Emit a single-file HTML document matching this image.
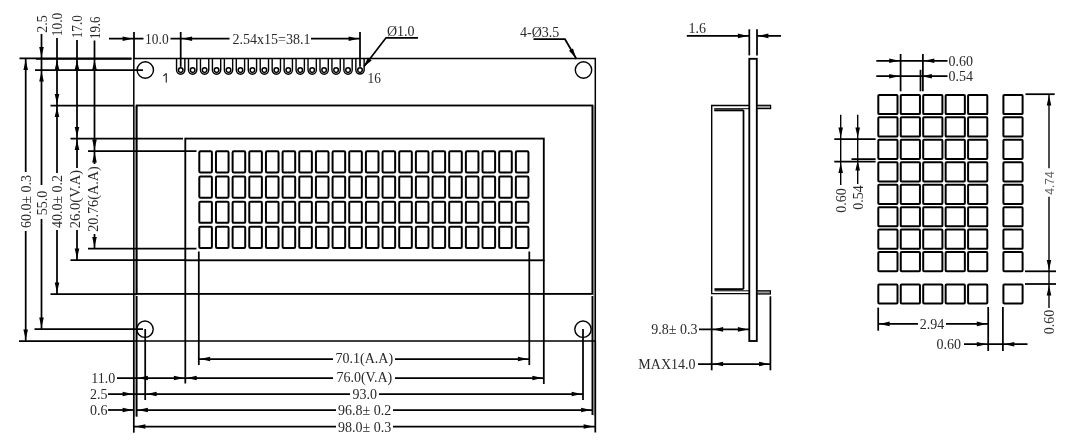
<!DOCTYPE html>
<html><head><meta charset="utf-8"><title>LCD 2004 dimensions</title>
<style>
html,body{margin:0;padding:0;background:#fff;}
body{width:1067px;height:441px;overflow:hidden;font-family:"Liberation Serif",serif;}
svg{display:block;filter:grayscale(1);}
</style></head>
<body>
<svg width="1067" height="441" viewBox="0 0 1067 441">
<rect x="0" y="0" width="1067" height="441" fill="#fff"/>
<g stroke="#000" fill="#000">
<rect x="134.4" y="105.5" width="1.8" height="311" fill="#b0b0b0" stroke="none"/>
<rect x="593.1" y="105.5" width="1.7" height="310" fill="#b0b0b0" stroke="none"/>
<rect x="133.8" y="58.5" width="461.49999999999994" height="282.5" fill="none" stroke-width="1.5"/>
<rect x="136.7" y="105.5" width="455.7" height="188.39999999999998" fill="none" stroke-width="1.85"/>
<circle cx="145.3" cy="70" r="8.2" fill="none" stroke-width="1.4"/>
<circle cx="583.5" cy="70" r="8.2" fill="none" stroke-width="1.4"/>
<circle cx="145" cy="329.2" r="8.2" fill="none" stroke-width="1.4"/>
<circle cx="583" cy="329.2" r="8.2" fill="none" stroke-width="1.4"/>
<rect x="185.3" y="138.6" width="358.49999999999994" height="121.70000000000002" fill="none" stroke-width="1.85"/>
<rect x="199.30" y="151.30" width="12.6" height="21.2" rx="1.2" fill="none" stroke-width="2"/>
<rect x="215.96" y="151.30" width="12.6" height="21.2" rx="1.2" fill="none" stroke-width="2"/>
<rect x="232.62" y="151.30" width="12.6" height="21.2" rx="1.2" fill="none" stroke-width="2"/>
<rect x="249.28" y="151.30" width="12.6" height="21.2" rx="1.2" fill="none" stroke-width="2"/>
<rect x="265.94" y="151.30" width="12.6" height="21.2" rx="1.2" fill="none" stroke-width="2"/>
<rect x="282.60" y="151.30" width="12.6" height="21.2" rx="1.2" fill="none" stroke-width="2"/>
<rect x="299.26" y="151.30" width="12.6" height="21.2" rx="1.2" fill="none" stroke-width="2"/>
<rect x="315.92" y="151.30" width="12.6" height="21.2" rx="1.2" fill="none" stroke-width="2"/>
<rect x="332.58" y="151.30" width="12.6" height="21.2" rx="1.2" fill="none" stroke-width="2"/>
<rect x="349.24" y="151.30" width="12.6" height="21.2" rx="1.2" fill="none" stroke-width="2"/>
<rect x="365.90" y="151.30" width="12.6" height="21.2" rx="1.2" fill="none" stroke-width="2"/>
<rect x="382.56" y="151.30" width="12.6" height="21.2" rx="1.2" fill="none" stroke-width="2"/>
<rect x="399.22" y="151.30" width="12.6" height="21.2" rx="1.2" fill="none" stroke-width="2"/>
<rect x="415.88" y="151.30" width="12.6" height="21.2" rx="1.2" fill="none" stroke-width="2"/>
<rect x="432.54" y="151.30" width="12.6" height="21.2" rx="1.2" fill="none" stroke-width="2"/>
<rect x="449.20" y="151.30" width="12.6" height="21.2" rx="1.2" fill="none" stroke-width="2"/>
<rect x="465.86" y="151.30" width="12.6" height="21.2" rx="1.2" fill="none" stroke-width="2"/>
<rect x="482.52" y="151.30" width="12.6" height="21.2" rx="1.2" fill="none" stroke-width="2"/>
<rect x="499.18" y="151.30" width="12.6" height="21.2" rx="1.2" fill="none" stroke-width="2"/>
<rect x="515.84" y="151.30" width="12.6" height="21.2" rx="1.2" fill="none" stroke-width="2"/>
<rect x="199.30" y="176.47" width="12.6" height="21.2" rx="1.2" fill="none" stroke-width="2"/>
<rect x="215.96" y="176.47" width="12.6" height="21.2" rx="1.2" fill="none" stroke-width="2"/>
<rect x="232.62" y="176.47" width="12.6" height="21.2" rx="1.2" fill="none" stroke-width="2"/>
<rect x="249.28" y="176.47" width="12.6" height="21.2" rx="1.2" fill="none" stroke-width="2"/>
<rect x="265.94" y="176.47" width="12.6" height="21.2" rx="1.2" fill="none" stroke-width="2"/>
<rect x="282.60" y="176.47" width="12.6" height="21.2" rx="1.2" fill="none" stroke-width="2"/>
<rect x="299.26" y="176.47" width="12.6" height="21.2" rx="1.2" fill="none" stroke-width="2"/>
<rect x="315.92" y="176.47" width="12.6" height="21.2" rx="1.2" fill="none" stroke-width="2"/>
<rect x="332.58" y="176.47" width="12.6" height="21.2" rx="1.2" fill="none" stroke-width="2"/>
<rect x="349.24" y="176.47" width="12.6" height="21.2" rx="1.2" fill="none" stroke-width="2"/>
<rect x="365.90" y="176.47" width="12.6" height="21.2" rx="1.2" fill="none" stroke-width="2"/>
<rect x="382.56" y="176.47" width="12.6" height="21.2" rx="1.2" fill="none" stroke-width="2"/>
<rect x="399.22" y="176.47" width="12.6" height="21.2" rx="1.2" fill="none" stroke-width="2"/>
<rect x="415.88" y="176.47" width="12.6" height="21.2" rx="1.2" fill="none" stroke-width="2"/>
<rect x="432.54" y="176.47" width="12.6" height="21.2" rx="1.2" fill="none" stroke-width="2"/>
<rect x="449.20" y="176.47" width="12.6" height="21.2" rx="1.2" fill="none" stroke-width="2"/>
<rect x="465.86" y="176.47" width="12.6" height="21.2" rx="1.2" fill="none" stroke-width="2"/>
<rect x="482.52" y="176.47" width="12.6" height="21.2" rx="1.2" fill="none" stroke-width="2"/>
<rect x="499.18" y="176.47" width="12.6" height="21.2" rx="1.2" fill="none" stroke-width="2"/>
<rect x="515.84" y="176.47" width="12.6" height="21.2" rx="1.2" fill="none" stroke-width="2"/>
<rect x="199.30" y="201.64" width="12.6" height="21.2" rx="1.2" fill="none" stroke-width="2"/>
<rect x="215.96" y="201.64" width="12.6" height="21.2" rx="1.2" fill="none" stroke-width="2"/>
<rect x="232.62" y="201.64" width="12.6" height="21.2" rx="1.2" fill="none" stroke-width="2"/>
<rect x="249.28" y="201.64" width="12.6" height="21.2" rx="1.2" fill="none" stroke-width="2"/>
<rect x="265.94" y="201.64" width="12.6" height="21.2" rx="1.2" fill="none" stroke-width="2"/>
<rect x="282.60" y="201.64" width="12.6" height="21.2" rx="1.2" fill="none" stroke-width="2"/>
<rect x="299.26" y="201.64" width="12.6" height="21.2" rx="1.2" fill="none" stroke-width="2"/>
<rect x="315.92" y="201.64" width="12.6" height="21.2" rx="1.2" fill="none" stroke-width="2"/>
<rect x="332.58" y="201.64" width="12.6" height="21.2" rx="1.2" fill="none" stroke-width="2"/>
<rect x="349.24" y="201.64" width="12.6" height="21.2" rx="1.2" fill="none" stroke-width="2"/>
<rect x="365.90" y="201.64" width="12.6" height="21.2" rx="1.2" fill="none" stroke-width="2"/>
<rect x="382.56" y="201.64" width="12.6" height="21.2" rx="1.2" fill="none" stroke-width="2"/>
<rect x="399.22" y="201.64" width="12.6" height="21.2" rx="1.2" fill="none" stroke-width="2"/>
<rect x="415.88" y="201.64" width="12.6" height="21.2" rx="1.2" fill="none" stroke-width="2"/>
<rect x="432.54" y="201.64" width="12.6" height="21.2" rx="1.2" fill="none" stroke-width="2"/>
<rect x="449.20" y="201.64" width="12.6" height="21.2" rx="1.2" fill="none" stroke-width="2"/>
<rect x="465.86" y="201.64" width="12.6" height="21.2" rx="1.2" fill="none" stroke-width="2"/>
<rect x="482.52" y="201.64" width="12.6" height="21.2" rx="1.2" fill="none" stroke-width="2"/>
<rect x="499.18" y="201.64" width="12.6" height="21.2" rx="1.2" fill="none" stroke-width="2"/>
<rect x="515.84" y="201.64" width="12.6" height="21.2" rx="1.2" fill="none" stroke-width="2"/>
<rect x="199.30" y="226.81" width="12.6" height="21.2" rx="1.2" fill="none" stroke-width="2"/>
<rect x="215.96" y="226.81" width="12.6" height="21.2" rx="1.2" fill="none" stroke-width="2"/>
<rect x="232.62" y="226.81" width="12.6" height="21.2" rx="1.2" fill="none" stroke-width="2"/>
<rect x="249.28" y="226.81" width="12.6" height="21.2" rx="1.2" fill="none" stroke-width="2"/>
<rect x="265.94" y="226.81" width="12.6" height="21.2" rx="1.2" fill="none" stroke-width="2"/>
<rect x="282.60" y="226.81" width="12.6" height="21.2" rx="1.2" fill="none" stroke-width="2"/>
<rect x="299.26" y="226.81" width="12.6" height="21.2" rx="1.2" fill="none" stroke-width="2"/>
<rect x="315.92" y="226.81" width="12.6" height="21.2" rx="1.2" fill="none" stroke-width="2"/>
<rect x="332.58" y="226.81" width="12.6" height="21.2" rx="1.2" fill="none" stroke-width="2"/>
<rect x="349.24" y="226.81" width="12.6" height="21.2" rx="1.2" fill="none" stroke-width="2"/>
<rect x="365.90" y="226.81" width="12.6" height="21.2" rx="1.2" fill="none" stroke-width="2"/>
<rect x="382.56" y="226.81" width="12.6" height="21.2" rx="1.2" fill="none" stroke-width="2"/>
<rect x="399.22" y="226.81" width="12.6" height="21.2" rx="1.2" fill="none" stroke-width="2"/>
<rect x="415.88" y="226.81" width="12.6" height="21.2" rx="1.2" fill="none" stroke-width="2"/>
<rect x="432.54" y="226.81" width="12.6" height="21.2" rx="1.2" fill="none" stroke-width="2"/>
<rect x="449.20" y="226.81" width="12.6" height="21.2" rx="1.2" fill="none" stroke-width="2"/>
<rect x="465.86" y="226.81" width="12.6" height="21.2" rx="1.2" fill="none" stroke-width="2"/>
<rect x="482.52" y="226.81" width="12.6" height="21.2" rx="1.2" fill="none" stroke-width="2"/>
<rect x="499.18" y="226.81" width="12.6" height="21.2" rx="1.2" fill="none" stroke-width="2"/>
<rect x="515.84" y="226.81" width="12.6" height="21.2" rx="1.2" fill="none" stroke-width="2"/>
<path d="M176.55,58.5 V70.1 A4.15,4.15 0 0 0 184.85,70.1 V58.5" fill="none" stroke-width="1.4"/>
<circle cx="180.7" cy="70.1" r="2.3" fill="none" stroke-width="1.5"/>
<path d="M188.50,58.5 V70.1 A4.15,4.15 0 0 0 196.80,70.1 V58.5" fill="none" stroke-width="1.4"/>
<circle cx="192.65" cy="70.1" r="2.3" fill="none" stroke-width="1.5"/>
<path d="M200.46,58.5 V70.1 A4.15,4.15 0 0 0 208.76,70.1 V58.5" fill="none" stroke-width="1.4"/>
<circle cx="204.61" cy="70.1" r="2.3" fill="none" stroke-width="1.5"/>
<path d="M212.41,58.5 V70.1 A4.15,4.15 0 0 0 220.71,70.1 V58.5" fill="none" stroke-width="1.4"/>
<circle cx="216.56" cy="70.1" r="2.3" fill="none" stroke-width="1.5"/>
<path d="M224.36,58.5 V70.1 A4.15,4.15 0 0 0 232.66,70.1 V58.5" fill="none" stroke-width="1.4"/>
<circle cx="228.51" cy="70.1" r="2.3" fill="none" stroke-width="1.5"/>
<path d="M236.31,58.5 V70.1 A4.15,4.15 0 0 0 244.61,70.1 V58.5" fill="none" stroke-width="1.4"/>
<circle cx="240.46" cy="70.1" r="2.3" fill="none" stroke-width="1.5"/>
<path d="M248.27,58.5 V70.1 A4.15,4.15 0 0 0 256.57,70.1 V58.5" fill="none" stroke-width="1.4"/>
<circle cx="252.42" cy="70.1" r="2.3" fill="none" stroke-width="1.5"/>
<path d="M260.22,58.5 V70.1 A4.15,4.15 0 0 0 268.52,70.1 V58.5" fill="none" stroke-width="1.4"/>
<circle cx="264.37" cy="70.1" r="2.3" fill="none" stroke-width="1.5"/>
<path d="M272.17,58.5 V70.1 A4.15,4.15 0 0 0 280.47,70.1 V58.5" fill="none" stroke-width="1.4"/>
<circle cx="276.32" cy="70.1" r="2.3" fill="none" stroke-width="1.5"/>
<path d="M284.13,58.5 V70.1 A4.15,4.15 0 0 0 292.43,70.1 V58.5" fill="none" stroke-width="1.4"/>
<circle cx="288.28" cy="70.1" r="2.3" fill="none" stroke-width="1.5"/>
<path d="M296.08,58.5 V70.1 A4.15,4.15 0 0 0 304.38,70.1 V58.5" fill="none" stroke-width="1.4"/>
<circle cx="300.23" cy="70.1" r="2.3" fill="none" stroke-width="1.5"/>
<path d="M308.03,58.5 V70.1 A4.15,4.15 0 0 0 316.33,70.1 V58.5" fill="none" stroke-width="1.4"/>
<circle cx="312.18" cy="70.1" r="2.3" fill="none" stroke-width="1.5"/>
<path d="M319.99,58.5 V70.1 A4.15,4.15 0 0 0 328.29,70.1 V58.5" fill="none" stroke-width="1.4"/>
<circle cx="324.14" cy="70.1" r="2.3" fill="none" stroke-width="1.5"/>
<path d="M331.94,58.5 V70.1 A4.15,4.15 0 0 0 340.24,70.1 V58.5" fill="none" stroke-width="1.4"/>
<circle cx="336.09" cy="70.1" r="2.3" fill="none" stroke-width="1.5"/>
<path d="M343.89,58.5 V70.1 A4.15,4.15 0 0 0 352.19,70.1 V58.5" fill="none" stroke-width="1.4"/>
<circle cx="348.04" cy="70.1" r="2.3" fill="none" stroke-width="1.5"/>
<path d="M355.85,58.5 V70.1 A4.15,4.15 0 0 0 364.14,70.1 V58.5" fill="none" stroke-width="1.4"/>
<circle cx="360.0" cy="70.1" r="2.3" fill="none" stroke-width="1.5"/>
<line x1="134" y1="32" x2="134" y2="58" stroke-width="1.75"/>
<line x1="180.7" y1="32" x2="180.7" y2="66.8" stroke-width="1.75"/>
<line x1="360" y1="32" x2="360" y2="66.8" stroke-width="1.75"/>
<line x1="109" y1="38.7" x2="143.5" y2="38.7" stroke-width="1.75"/>
<polygon points="132.6,38.7 122.6,36.4 122.6,41.0" stroke="none" fill="#000"/>
<line x1="170.5" y1="38.7" x2="229.5" y2="38.7" stroke-width="1.75"/>
<polygon points="182.1,38.7 192.1,36.4 192.1,41.0" stroke="none" fill="#000"/>
<line x1="311" y1="38.7" x2="360" y2="38.7" stroke-width="1.75"/>
<polygon points="358.6,38.7 348.6,36.4 348.6,41.0" stroke="none" fill="#000"/>
<polyline points="364.0,66.6 386,37.8 418,37.8" fill="none" stroke-width="1.7"/>
<polygon points="364.0,66.6 367.9,57.6 371.7,60.5" stroke="none" fill="#000"/>
<path d="M166.3,73.2 V82.4 M166.3,73.4 L163.4,76" fill="none" stroke="#333" stroke-width="1.25"/>
<polyline points="533.5,39.2 565,39.2 576.5,59" fill="none" stroke-width="1.7"/>
<polygon points="576.0,58.2 569.0,50.7 573.0,48.4" stroke="none" fill="#000"/>
<line x1="19.5" y1="58.4" x2="131.5" y2="58.4" stroke-width="1.7"/>
<line x1="36" y1="58.9" x2="131.5" y2="58.9" stroke-width="1.8"/>
<line x1="35" y1="70" x2="143" y2="70" stroke-width="1.75"/>
<line x1="50.5" y1="105.5" x2="134" y2="105.5" stroke-width="1.75"/>
<line x1="70.5" y1="138.6" x2="183" y2="138.6" stroke-width="1.75"/>
<line x1="88" y1="151" x2="196.5" y2="151" stroke-width="1.75"/>
<line x1="88" y1="248.5" x2="196.5" y2="248.5" stroke-width="1.75"/>
<line x1="70.5" y1="260" x2="185.3" y2="260" stroke-width="1.75"/>
<line x1="50.5" y1="294" x2="137" y2="294" stroke-width="1.75"/>
<line x1="34.5" y1="329" x2="143" y2="329" stroke-width="1.75"/>
<line x1="19" y1="341" x2="134" y2="341" stroke-width="1.75"/>
<line x1="25.7" y1="58.5" x2="25.7" y2="172" stroke-width="1.75"/>
<line x1="25.7" y1="231" x2="25.7" y2="341" stroke-width="1.75"/>
<polygon points="25.7,59.9 23.4,69.9 28.0,69.9" stroke="none" fill="#000"/>
<polygon points="25.7,339.6 23.4,329.6 28.0,329.6" stroke="none" fill="#000"/>
<line x1="41.5" y1="34" x2="41.5" y2="185" stroke-width="1.75"/>
<line x1="41.5" y1="219" x2="41.5" y2="329" stroke-width="1.75"/>
<polygon points="41.5,57.1 39.2,47.1 43.8,47.1" stroke="none" fill="#000"/>
<polygon points="41.5,71.4 39.2,81.4 43.8,81.4" stroke="none" fill="#000"/>
<polygon points="41.5,327.6 39.2,317.6 43.8,317.6" stroke="none" fill="#000"/>
<line x1="57" y1="38" x2="57" y2="173" stroke-width="1.75"/>
<line x1="57" y1="230" x2="57" y2="294" stroke-width="1.75"/>
<polygon points="57.0,59.9 54.7,69.9 59.3,69.9" stroke="none" fill="#000"/>
<polygon points="57.0,104.1 54.7,94.1 59.3,94.1" stroke="none" fill="#000"/>
<polygon points="57.0,106.9 54.7,116.9 59.3,116.9" stroke="none" fill="#000"/>
<polygon points="57.0,292.6 54.7,282.6 59.3,282.6" stroke="none" fill="#000"/>
<line x1="77" y1="40" x2="77" y2="168" stroke-width="1.75"/>
<line x1="77" y1="230" x2="77" y2="260" stroke-width="1.75"/>
<polygon points="77.0,59.9 74.7,69.9 79.3,69.9" stroke="none" fill="#000"/>
<polygon points="77.0,137.1 74.7,127.1 79.3,127.1" stroke="none" fill="#000"/>
<polygon points="77.0,139.9 74.7,149.9 79.3,149.9" stroke="none" fill="#000"/>
<polygon points="77.0,258.6 74.7,248.6 79.3,248.6" stroke="none" fill="#000"/>
<line x1="94.5" y1="40.5" x2="94.5" y2="164" stroke-width="1.75"/>
<line x1="94.5" y1="234" x2="94.5" y2="248.5" stroke-width="1.75"/>
<polygon points="94.5,59.9 92.2,69.9 96.8,69.9" stroke="none" fill="#000"/>
<polygon points="94.5,149.6 92.2,139.6 96.8,139.6" stroke="none" fill="#000"/>
<polygon points="94.5,152.4 92.2,162.4 96.8,162.4" stroke="none" fill="#000"/>
<polygon points="94.5,247.1 92.2,237.1 96.8,237.1" stroke="none" fill="#000"/>
<line x1="133.8" y1="341" x2="133.8" y2="432.7" stroke-width="1.7"/>
<line x1="136.7" y1="296" x2="136.7" y2="416.7" stroke-width="1.7"/>
<line x1="145.2" y1="329" x2="145.2" y2="400" stroke-width="1.75"/>
<line x1="185.3" y1="260" x2="185.3" y2="383.5" stroke-width="1.75"/>
<line x1="198.8" y1="251.5" x2="198.8" y2="365" stroke-width="1.75"/>
<line x1="529.3" y1="251.5" x2="529.3" y2="365" stroke-width="1.75"/>
<line x1="543.8" y1="260" x2="543.8" y2="384" stroke-width="1.75"/>
<line x1="583" y1="329" x2="583" y2="400" stroke-width="1.75"/>
<line x1="592.4" y1="296" x2="592.4" y2="415" stroke-width="1.75"/>
<line x1="595.3" y1="341" x2="595.3" y2="432.5" stroke-width="1.75"/>
<line x1="198.8" y1="359" x2="333" y2="359" stroke-width="1.75"/>
<line x1="395" y1="359" x2="529.3" y2="359" stroke-width="1.75"/>
<polygon points="200.2,359.0 210.2,356.7 210.2,361.3" stroke="none" fill="#000"/>
<polygon points="527.9,359.0 517.9,356.7 517.9,361.3" stroke="none" fill="#000"/>
<line x1="117" y1="378" x2="333" y2="378" stroke-width="1.75"/>
<line x1="395" y1="378" x2="543.8" y2="378" stroke-width="1.75"/>
<polygon points="137.9,378.0 147.9,375.7 147.9,380.3" stroke="none" fill="#000"/>
<polygon points="183.9,378.0 173.9,375.7 173.9,380.3" stroke="none" fill="#000"/>
<polygon points="186.7,378.0 196.7,375.7 196.7,380.3" stroke="none" fill="#000"/>
<polygon points="542.4,378.0 532.4,375.7 532.4,380.3" stroke="none" fill="#000"/>
<line x1="108" y1="394" x2="145.2" y2="394" stroke-width="1.75"/>
<polygon points="132.6,394.0 122.6,391.7 122.6,396.3" stroke="none" fill="#000"/>
<line x1="145.2" y1="394" x2="350" y2="394" stroke-width="1.75"/>
<line x1="379" y1="394" x2="583" y2="394" stroke-width="1.75"/>
<polygon points="146.6,394.0 156.6,391.7 156.6,396.3" stroke="none" fill="#000"/>
<polygon points="581.6,394.0 571.6,391.7 571.6,396.3" stroke="none" fill="#000"/>
<line x1="108" y1="410" x2="134" y2="410" stroke-width="1.75"/>
<polygon points="132.6,410.0 122.6,407.7 122.6,412.3" stroke="none" fill="#000"/>
<line x1="136.5" y1="410" x2="336" y2="410" stroke-width="1.75"/>
<line x1="393" y1="410" x2="592.5" y2="410" stroke-width="1.75"/>
<polygon points="137.9,410.0 147.9,407.7 147.9,412.3" stroke="none" fill="#000"/>
<polygon points="591.1,410.0 581.1,407.7 581.1,412.3" stroke="none" fill="#000"/>
<line x1="134" y1="426.5" x2="336" y2="426.5" stroke-width="1.75"/>
<line x1="393" y1="426.5" x2="595" y2="426.5" stroke-width="1.75"/>
<polygon points="135.4,426.5 145.4,424.2 145.4,428.8" stroke="none" fill="#000"/>
<polygon points="593.6,426.5 583.6,424.2 583.6,428.8" stroke="none" fill="#000"/>
<rect x="749.3" y="58.8" width="7.5" height="282.2" fill="none" stroke-width="1.85"/>
<line x1="749.3" y1="29.3" x2="749.3" y2="55.4" stroke-width="1.75"/>
<line x1="757" y1="29.3" x2="757" y2="55.4" stroke-width="1.75"/>
<line x1="686.8" y1="35.9" x2="749.3" y2="35.9" stroke-width="1.75"/>
<polygon points="747.9,35.9 737.9,33.6 737.9,38.2" stroke="none" fill="#000"/>
<line x1="757" y1="35.9" x2="781" y2="35.9" stroke-width="1.75"/>
<polygon points="758.4,35.9 768.4,33.6 768.4,38.2" stroke="none" fill="#000"/>
<polyline points="749.3,105.5 711.7,105.5 711.7,293.6 749.3,293.6" fill="none" stroke-width="1.4"/>
<line x1="714.2" y1="108.7" x2="749.3" y2="108.7" stroke-width="1.0"/>
<line x1="714.2" y1="110.3" x2="743.5" y2="110.3" stroke-width="2.0"/>
<line x1="743.5" y1="110" x2="743.5" y2="289" stroke-width="1.75"/>
<line x1="714.5" y1="289.2" x2="743.5" y2="289.2" stroke-width="2.0"/>
<line x1="714.5" y1="290.8" x2="749.3" y2="290.8" stroke-width="1.0"/>
<rect x="757" y="105.3" width="13.6" height="3.3" fill="#999" stroke-width="1.2"/>
<rect x="757" y="290.8" width="13.4" height="3.2" fill="#999" stroke-width="1.2"/>
<line x1="711.7" y1="296.3" x2="711.7" y2="370.3" stroke-width="1.75"/>
<line x1="770.4" y1="296.3" x2="770.4" y2="370.3" stroke-width="1.75"/>
<line x1="699" y1="329.4" x2="749.3" y2="329.4" stroke-width="1.75"/>
<polygon points="713.1,329.4 723.1,327.1 723.1,331.7" stroke="none" fill="#000"/>
<polygon points="747.9,329.4 737.9,327.1 737.9,331.7" stroke="none" fill="#000"/>
<line x1="698" y1="364" x2="770.4" y2="364" stroke-width="1.75"/>
<polygon points="713.1,364.0 723.1,361.7 723.1,366.3" stroke="none" fill="#000"/>
<polygon points="769.0,364.0 759.0,361.7 759.0,366.3" stroke="none" fill="#000"/>
<rect x="878.30" y="94.90" width="19.20" height="19.20" rx="0.9" fill="none" stroke-width="2"/>
<rect x="900.75" y="94.90" width="19.20" height="19.20" rx="0.9" fill="none" stroke-width="2"/>
<rect x="923.20" y="94.90" width="19.20" height="19.20" rx="0.9" fill="none" stroke-width="2"/>
<rect x="945.65" y="94.90" width="19.20" height="19.20" rx="0.9" fill="none" stroke-width="2"/>
<rect x="968.10" y="94.90" width="19.20" height="19.20" rx="0.9" fill="none" stroke-width="2"/>
<rect x="1003.40" y="94.90" width="19.20" height="19.20" rx="0.9" fill="none" stroke-width="2"/>
<rect x="878.30" y="117.35" width="19.20" height="19.20" rx="0.9" fill="none" stroke-width="2"/>
<rect x="900.75" y="117.35" width="19.20" height="19.20" rx="0.9" fill="none" stroke-width="2"/>
<rect x="923.20" y="117.35" width="19.20" height="19.20" rx="0.9" fill="none" stroke-width="2"/>
<rect x="945.65" y="117.35" width="19.20" height="19.20" rx="0.9" fill="none" stroke-width="2"/>
<rect x="968.10" y="117.35" width="19.20" height="19.20" rx="0.9" fill="none" stroke-width="2"/>
<rect x="1003.40" y="117.35" width="19.20" height="19.20" rx="0.9" fill="none" stroke-width="2"/>
<rect x="878.30" y="139.80" width="19.20" height="19.20" rx="0.9" fill="none" stroke-width="2"/>
<rect x="900.75" y="139.80" width="19.20" height="19.20" rx="0.9" fill="none" stroke-width="2"/>
<rect x="923.20" y="139.80" width="19.20" height="19.20" rx="0.9" fill="none" stroke-width="2"/>
<rect x="945.65" y="139.80" width="19.20" height="19.20" rx="0.9" fill="none" stroke-width="2"/>
<rect x="968.10" y="139.80" width="19.20" height="19.20" rx="0.9" fill="none" stroke-width="2"/>
<rect x="1003.40" y="139.80" width="19.20" height="19.20" rx="0.9" fill="none" stroke-width="2"/>
<rect x="878.30" y="162.25" width="19.20" height="19.20" rx="0.9" fill="none" stroke-width="2"/>
<rect x="900.75" y="162.25" width="19.20" height="19.20" rx="0.9" fill="none" stroke-width="2"/>
<rect x="923.20" y="162.25" width="19.20" height="19.20" rx="0.9" fill="none" stroke-width="2"/>
<rect x="945.65" y="162.25" width="19.20" height="19.20" rx="0.9" fill="none" stroke-width="2"/>
<rect x="968.10" y="162.25" width="19.20" height="19.20" rx="0.9" fill="none" stroke-width="2"/>
<rect x="1003.40" y="162.25" width="19.20" height="19.20" rx="0.9" fill="none" stroke-width="2"/>
<rect x="878.30" y="184.70" width="19.20" height="19.20" rx="0.9" fill="none" stroke-width="2"/>
<rect x="900.75" y="184.70" width="19.20" height="19.20" rx="0.9" fill="none" stroke-width="2"/>
<rect x="923.20" y="184.70" width="19.20" height="19.20" rx="0.9" fill="none" stroke-width="2"/>
<rect x="945.65" y="184.70" width="19.20" height="19.20" rx="0.9" fill="none" stroke-width="2"/>
<rect x="968.10" y="184.70" width="19.20" height="19.20" rx="0.9" fill="none" stroke-width="2"/>
<rect x="1003.40" y="184.70" width="19.20" height="19.20" rx="0.9" fill="none" stroke-width="2"/>
<rect x="878.30" y="207.15" width="19.20" height="19.20" rx="0.9" fill="none" stroke-width="2"/>
<rect x="900.75" y="207.15" width="19.20" height="19.20" rx="0.9" fill="none" stroke-width="2"/>
<rect x="923.20" y="207.15" width="19.20" height="19.20" rx="0.9" fill="none" stroke-width="2"/>
<rect x="945.65" y="207.15" width="19.20" height="19.20" rx="0.9" fill="none" stroke-width="2"/>
<rect x="968.10" y="207.15" width="19.20" height="19.20" rx="0.9" fill="none" stroke-width="2"/>
<rect x="1003.40" y="207.15" width="19.20" height="19.20" rx="0.9" fill="none" stroke-width="2"/>
<rect x="878.30" y="229.60" width="19.20" height="19.20" rx="0.9" fill="none" stroke-width="2"/>
<rect x="900.75" y="229.60" width="19.20" height="19.20" rx="0.9" fill="none" stroke-width="2"/>
<rect x="923.20" y="229.60" width="19.20" height="19.20" rx="0.9" fill="none" stroke-width="2"/>
<rect x="945.65" y="229.60" width="19.20" height="19.20" rx="0.9" fill="none" stroke-width="2"/>
<rect x="968.10" y="229.60" width="19.20" height="19.20" rx="0.9" fill="none" stroke-width="2"/>
<rect x="1003.40" y="229.60" width="19.20" height="19.20" rx="0.9" fill="none" stroke-width="2"/>
<rect x="878.30" y="252.05" width="19.20" height="19.20" rx="0.9" fill="none" stroke-width="2"/>
<rect x="900.75" y="252.05" width="19.20" height="19.20" rx="0.9" fill="none" stroke-width="2"/>
<rect x="923.20" y="252.05" width="19.20" height="19.20" rx="0.9" fill="none" stroke-width="2"/>
<rect x="945.65" y="252.05" width="19.20" height="19.20" rx="0.9" fill="none" stroke-width="2"/>
<rect x="968.10" y="252.05" width="19.20" height="19.20" rx="0.9" fill="none" stroke-width="2"/>
<rect x="1003.40" y="252.05" width="19.20" height="19.20" rx="0.9" fill="none" stroke-width="2"/>
<rect x="878.30" y="284.50" width="19.20" height="19.00" rx="0.9" fill="none" stroke-width="2"/>
<rect x="900.75" y="284.50" width="19.20" height="19.00" rx="0.9" fill="none" stroke-width="2"/>
<rect x="923.20" y="284.50" width="19.20" height="19.00" rx="0.9" fill="none" stroke-width="2"/>
<rect x="945.65" y="284.50" width="19.20" height="19.00" rx="0.9" fill="none" stroke-width="2"/>
<rect x="968.10" y="284.50" width="19.20" height="19.00" rx="0.9" fill="none" stroke-width="2"/>
<rect x="1003.40" y="284.50" width="19.20" height="19.00" rx="0.9" fill="none" stroke-width="2"/>
<line x1="900.6" y1="54" x2="900.6" y2="91.3" stroke-width="1.75"/>
<line x1="922.9" y1="54" x2="922.9" y2="91.3" stroke-width="1.75"/>
<line x1="920.5" y1="69.8" x2="920.5" y2="91.3" stroke-width="1.75"/>
<line x1="876.3" y1="60.8" x2="947.5" y2="60.8" stroke-width="1.75"/>
<polygon points="899.2,60.8 889.2,58.5 889.2,63.1" stroke="none" fill="#000"/>
<polygon points="924.3,60.8 934.3,58.5 934.3,63.1" stroke="none" fill="#000"/>
<line x1="876.3" y1="76.2" x2="947.5" y2="76.2" stroke-width="1.75"/>
<polygon points="899.2,76.2 889.2,73.9 889.2,78.5" stroke="none" fill="#000"/>
<polygon points="921.9,76.2 931.9,73.9 931.9,78.5" stroke="none" fill="#000"/>
<line x1="834.3" y1="139" x2="875.6" y2="139" stroke-width="1.75"/>
<line x1="834.3" y1="161.5" x2="875.6" y2="161.5" stroke-width="1.75"/>
<line x1="851.5" y1="159.1" x2="875.6" y2="159.1" stroke-width="1.75"/>
<line x1="840.7" y1="114.8" x2="840.7" y2="185" stroke-width="1.4"/>
<polygon points="840.7,137.6 838.4,127.6 843.0,127.6" stroke="none" fill="#000"/>
<polygon points="840.7,162.9 838.4,172.9 843.0,172.9" stroke="none" fill="#000"/>
<line x1="857.7" y1="114.8" x2="857.7" y2="184" stroke-width="1.4"/>
<polygon points="857.7,137.6 855.4,127.6 860.0,127.6" stroke="none" fill="#000"/>
<polygon points="857.7,160.5 855.4,170.5 860.0,170.5" stroke="none" fill="#000"/>
<line x1="1025.5" y1="94.2" x2="1054.7" y2="94.2" stroke-width="1.75"/>
<line x1="1025" y1="271.3" x2="1056" y2="271.3" stroke-width="1.8"/>
<line x1="1025" y1="284" x2="1056" y2="284" stroke-width="1.75"/>
<line x1="1049" y1="94.2" x2="1049" y2="168.2" stroke-width="1.4"/>
<line x1="1049" y1="196.7" x2="1049" y2="271.3" stroke-width="1.4"/>
<polygon points="1049.0,95.6 1046.7,105.6 1051.3,105.6" stroke="none" fill="#000"/>
<polygon points="1049.0,269.9 1046.7,259.9 1051.3,259.9" stroke="none" fill="#000"/>
<line x1="1049" y1="271.3" x2="1049" y2="308" stroke-width="1.4"/>
<polygon points="1049.0,285.4 1046.7,295.4 1051.3,295.4" stroke="none" fill="#000"/>
<line x1="878.2" y1="307.6" x2="878.2" y2="330.7" stroke-width="1.75"/>
<line x1="988.2" y1="307" x2="988.2" y2="351" stroke-width="1.75"/>
<line x1="1002.9" y1="307" x2="1002.9" y2="351" stroke-width="1.75"/>
<line x1="878.2" y1="323.9" x2="918" y2="323.9" stroke-width="1.75"/>
<line x1="946" y1="323.9" x2="988.2" y2="323.9" stroke-width="1.75"/>
<polygon points="879.6,323.9 889.6,321.6 889.6,326.2" stroke="none" fill="#000"/>
<polygon points="986.8,323.9 976.8,321.6 976.8,326.2" stroke="none" fill="#000"/>
<line x1="964" y1="344.2" x2="1027.5" y2="344.2" stroke-width="1.75"/>
<polygon points="986.8,344.2 976.8,341.9 976.8,346.5" stroke="none" fill="#000"/>
<polygon points="1004.3,344.2 1014.3,341.9 1014.3,346.5" stroke="none" fill="#000"/>
</g>
<g fill="#2a2a2a" stroke="#fff" stroke-width="0.0">
<text transform="translate(145.1,43.6) scale(0.96,1)" text-anchor="start" font-family="Liberation Serif" font-size="14">10.0</text>
<text transform="translate(232.5,43.6)" text-anchor="start" font-family="Liberation Serif" font-size="14">2.54x15=38.1</text>
<text transform="translate(387,36.2)" text-anchor="start" font-family="Liberation Serif" font-size="14">Ø1.0</text>
<text transform="translate(367.6,82.8) scale(0.95,1)" text-anchor="start" font-family="Liberation Serif" font-size="14">16</text>
<text transform="translate(520,37)" text-anchor="start" font-family="Liberation Serif" font-size="14">4-Ø3.5</text>
<text transform="translate(31.2,201.5) rotate(-90)" text-anchor="middle" font-family="Liberation Serif" font-size="14">60.0± 0.3</text>
<text transform="translate(46.6,24) rotate(-90)" text-anchor="middle" font-family="Liberation Serif" font-size="14">2.5</text>
<text transform="translate(46.6,203) rotate(-90)" text-anchor="middle" font-family="Liberation Serif" font-size="14">55.0</text>
<text transform="translate(62.2,24.5) rotate(-90) scale(0.957,1)" text-anchor="middle" font-family="Liberation Serif" font-size="14">10.0</text>
<text transform="translate(62.2,201.5) rotate(-90)" text-anchor="middle" font-family="Liberation Serif" font-size="14">40.0± 0.2</text>
<text transform="translate(82.2,26.7) rotate(-90) scale(0.94,1)" text-anchor="middle" font-family="Liberation Serif" font-size="14">17.0</text>
<text transform="translate(80.4,199.1) rotate(-90) scale(1.05,1)" text-anchor="middle" font-family="Liberation Serif" font-size="14">26.0(V.A)</text>
<text transform="translate(99.8,27.8) rotate(-90) scale(0.92,1)" text-anchor="middle" font-family="Liberation Serif" font-size="14">19.6</text>
<text transform="translate(97.9,199) rotate(-90) scale(1.017,1)" text-anchor="middle" font-family="Liberation Serif" font-size="14">20.76(A.A)</text>
<text transform="translate(364.3,362.9)" text-anchor="middle" font-family="Liberation Serif" font-size="14">70.1(A.A)</text>
<text transform="translate(364.3,381.5)" text-anchor="middle" font-family="Liberation Serif" font-size="14">76.0(V.A)</text>
<text transform="translate(115.3,382.6)" text-anchor="end" font-family="Liberation Serif" font-size="14">11.0</text>
<text transform="translate(364.7,398.8)" text-anchor="middle" font-family="Liberation Serif" font-size="14">93.0</text>
<text transform="translate(107.5,398.6)" text-anchor="end" font-family="Liberation Serif" font-size="14">2.5</text>
<text transform="translate(364.7,415.3)" text-anchor="middle" font-family="Liberation Serif" font-size="14">96.8± 0.2</text>
<text transform="translate(107.5,414.6)" text-anchor="end" font-family="Liberation Serif" font-size="14">0.6</text>
<text transform="translate(364.7,431.9)" text-anchor="middle" font-family="Liberation Serif" font-size="14">98.0± 0.3</text>
<text transform="translate(688.6,33.3)" text-anchor="start" font-family="Liberation Serif" font-size="14">1.6</text>
<text transform="translate(697.5,334.2)" text-anchor="end" font-family="Liberation Serif" font-size="14">9.8± 0.3</text>
<text transform="translate(695.5,368.8)" text-anchor="end" font-family="Liberation Serif" font-size="14">MAX14.0</text>
<text transform="translate(948.5,65.6)" text-anchor="start" font-family="Liberation Serif" font-size="14">0.60</text>
<text transform="translate(948.5,81.0)" text-anchor="start" font-family="Liberation Serif" font-size="14">0.54</text>
<text transform="translate(845.8,200.5) rotate(-90)" text-anchor="middle" font-family="Liberation Serif" font-size="14">0.60</text>
<text transform="translate(862.8,197.5) rotate(-90)" text-anchor="middle" font-family="Liberation Serif" font-size="14">0.54</text>
<text transform="translate(1053.8,183) rotate(-90)" text-anchor="middle" font-family="Liberation Sans" font-size="12" fill="#666">4.74</text>
<text transform="translate(1054,322) rotate(-90)" text-anchor="middle" font-family="Liberation Serif" font-size="14">0.60</text>
<text transform="translate(932,328.7)" text-anchor="middle" font-family="Liberation Serif" font-size="14">2.94</text>
<text transform="translate(961,349.0)" text-anchor="end" font-family="Liberation Serif" font-size="14">0.60</text>
</g>
</svg>
</body></html>
